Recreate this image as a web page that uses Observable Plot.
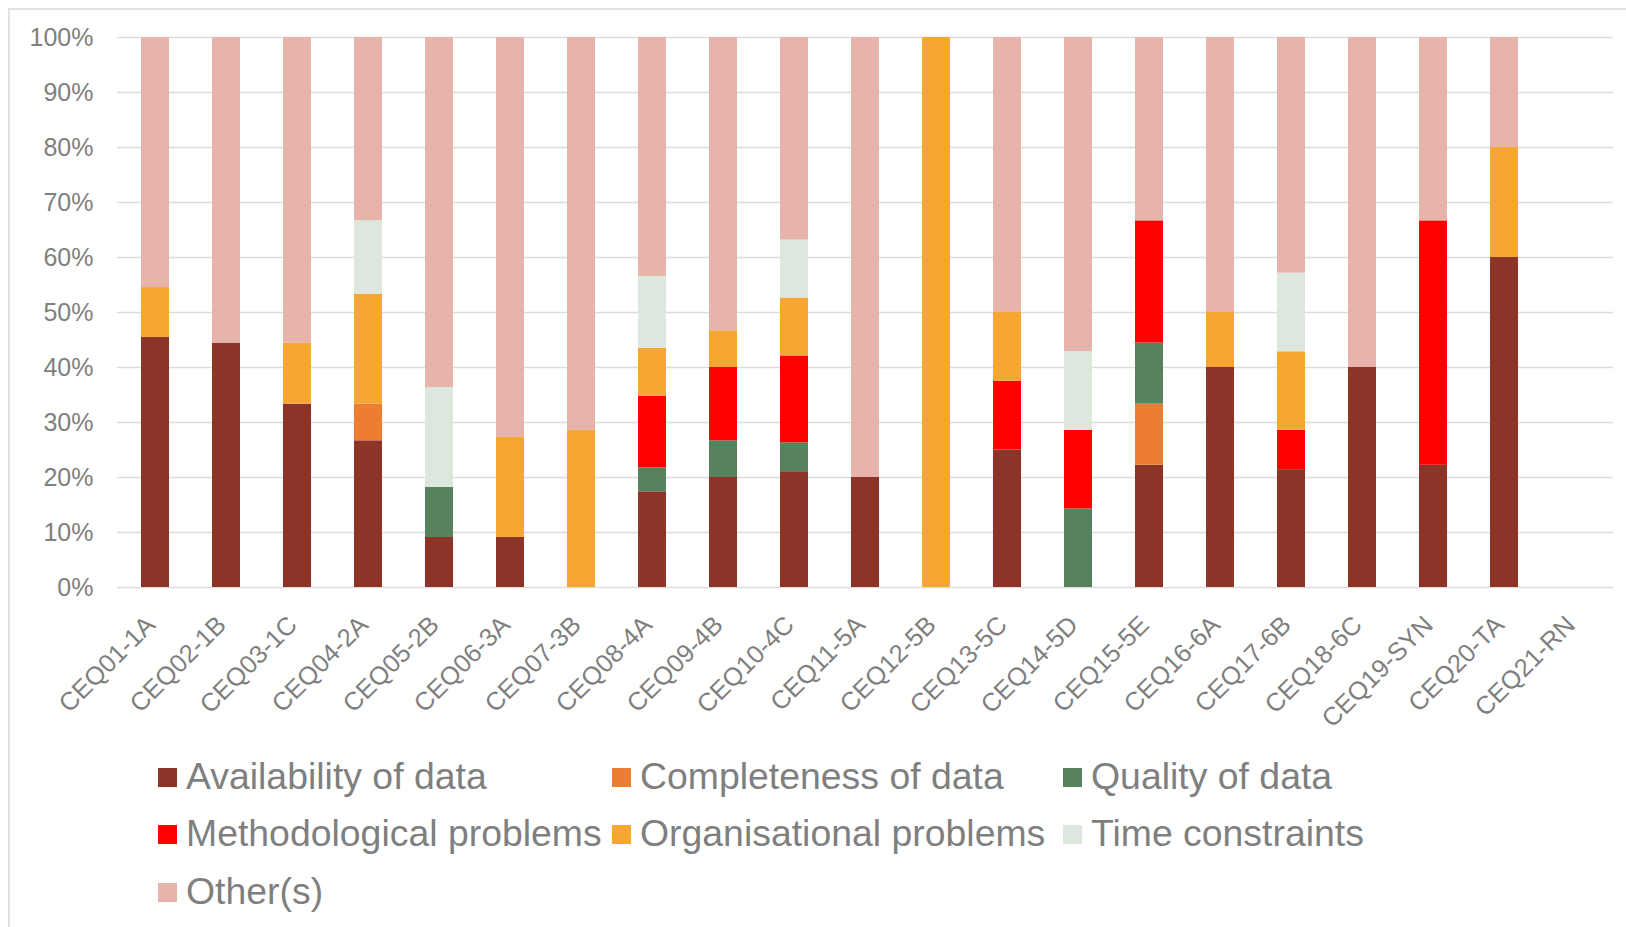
<!DOCTYPE html>
<html><head><meta charset="utf-8">
<script src="https://cdn.jsdelivr.net/npm/d3@7"></script>
<script src="https://cdn.jsdelivr.net/npm/@observablehq/plot@0.6"></script>
<style>
body{margin:0;background:#fff;font-family:"Liberation Sans",Arial,sans-serif;overflow:hidden;}
#frame{position:absolute;left:8px;top:8px;width:1700px;height:1000px;border:2px solid #e2e2e2;box-sizing:border-box;}
#chart{position:absolute;left:0;top:0;}
.leg{position:absolute;display:flex;align-items:center;height:40px;font-size:37.4px;line-height:1;color:#7f7f7f;white-space:nowrap;}
.sw{width:19px;height:19px;margin-right:9px;flex:none;}
</style></head><body>
<div id="frame"></div><div id="chart"></div><div id="legend"></div>
<script>
const categories = ["CEQ01-1A","CEQ02-1B","CEQ03-1C","CEQ04-2A","CEQ05-2B","CEQ06-3A","CEQ07-3B","CEQ08-4A","CEQ09-4B","CEQ10-4C","CEQ11-5A","CEQ12-5B","CEQ13-5C","CEQ14-5D","CEQ15-5E","CEQ16-6A","CEQ17-6B","CEQ18-6C","CEQ19-SYN","CEQ20-TA","CEQ21-RN"];
const seriesNames = ["Availability of data","Completeness of data","Quality of data","Methodological problems","Organisational problems","Time constraints","Other(s)"];
const seriesColors = ["#8c3428","#ed7d31","#56825d","#ff0000","#f6a733","#dde7de","#e6b4ab"];
const availability   = [45.45,44.44,33.33,26.67,9.09,9.09,0,17.39,20,21.05,20,0,25,0,22.22,40,21.43,40,22.22,60,0];
const completeness   = [0,0,0,6.67,0,0,0,0,0,0,0,0,0,0,11.11,0,0,0,0,0,0];
const quality        = [0,0,0,0,9.09,0,0,4.35,6.67,5.26,0,0,0,14.29,11.11,0,0,0,0,0,0];
const methodological = [0,0,0,0,0,0,0,13.04,13.33,15.79,0,0,12.5,14.29,22.22,0,7.14,0,44.44,0,0];
const organisational = [9.09,0,11.11,20,0,18.18,28.57,8.70,6.67,10.53,0,100,12.5,0,0,10,14.29,0,0,20,0];
const timeConstraints= [0,0,0,13.33,18.18,0,0,13.04,0,10.53,0,0,0,14.29,0,0,14.29,0,0,0,0];
const others         = [45.45,55.56,55.56,33.33,63.64,72.73,71.43,43.48,53.33,36.84,80,0,50,57.14,33.33,50,42.86,60,33.33,20,0];
const yTicks = [0,10,20,30,40,50,60,70,80,90,100];

const seriesValues = [availability,completeness,quality,methodological,organisational,timeConstraints,others];
const rows = [];
categories.forEach((c,i)=>{
  seriesNames.forEach((s,j)=>{ rows.push({cat:c, series:s, value:seriesValues[j][i]}); });
});

const chart = Plot.plot({
  width:1626, height:740,
  marginLeft:117, marginRight:13, marginTop:37, marginBottom:153,
  style:{fontFamily:'"Liberation Sans", Arial, sans-serif', color:"#7f7f7f", background:"transparent", overflow:"visible"},
  x:{domain:categories, paddingInner:0.607, paddingOuter:0.3035, axis:null},
  y:{domain:[0,100], axis:null},
  color:{domain:seriesNames, range:seriesColors, legend:false},
  marks:[
    Plot.ruleY(yTicks,{stroke:"#dcdcdc", strokeWidth:1.5}),
    Plot.barY(rows,{x:"cat", y:"value", fill:"series"}),
    Plot.axisY(yTicks,{tickSize:0, tickPadding:24, fontSize:25, label:null, tickFormat:d=>d+"%", fill:"#7f7f7f"}),
    Plot.text(categories,{x:d=>d, frameAnchor:"bottom", dy:39, dx:1, rotate:-45, textAnchor:"end", lineAnchor:"bottom", fontSize:25.5, fill:"#7f7f7f"})
  ]
});
document.getElementById("chart").appendChild(chart);

const colX = [158,612,1063];
const rowY = [757,814,872];
const legend = document.getElementById("legend");
seriesNames.forEach((s,i)=>{
  const d = document.createElement("div");
  d.className="leg";
  d.style.left = colX[i%3]+"px";
  d.style.top = rowY[Math.floor(i/3)]+"px";
  const sw = document.createElement("span"); sw.className="sw"; sw.style.background=seriesColors[i];
  const t = document.createElement("span"); t.textContent=s;
  d.appendChild(sw); d.appendChild(t);
  legend.appendChild(d);
});
</script>
</body></html>
